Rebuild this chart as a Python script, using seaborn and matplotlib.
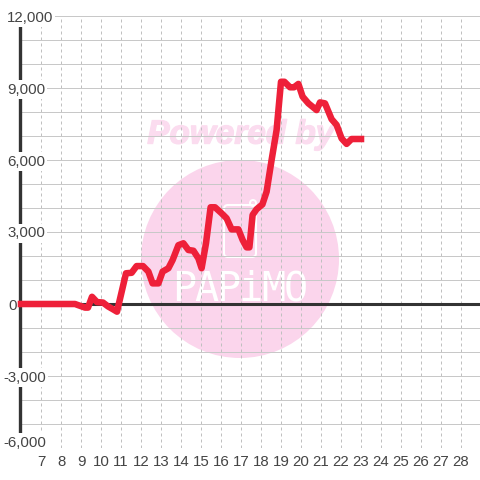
import matplotlib
matplotlib.use("Agg")
import matplotlib.pyplot as plt
import matplotlib.patheffects as pe
from matplotlib.patches import Circle, FancyBboxPatch
import seaborn as sns
import pandas as pd

hours = [6, 8.7, 9.2, 9.35, 9.55, 9.8, 10.1, 10.35, 10.6, 10.8, 11.25, 11.53, 11.78, 12.1, 12.37,
         12.58, 12.87, 13.08, 13.37, 13.58, 13.87, 14.12, 14.37, 14.62, 14.87, 15.03, 15.25,
         15.48, 15.7, 16.03, 16.28, 16.53, 16.87, 17.08, 17.28, 17.42, 17.58, 17.78, 18.07,
         18.28, 18.53, 18.78, 19.0, 19.17, 19.45, 19.65, 19.87, 20.08, 20.37, 20.78, 20.95,
         21.2, 21.53, 21.78, 22.03, 22.28, 22.53, 23.0]
values = [0, 0, -150, -150, 300, 80, 60, -100, -220, -320, 1280, 1300, 1580, 1580, 1350,
          860, 860, 1350, 1490, 1830, 2450, 2530, 2250, 2220, 1900, 1490, 2530,
          4030, 4030, 3780, 3570, 3110, 3110, 2670, 2360, 2360, 3710, 3950, 4150,
          4680, 6000, 7250, 9260, 9260, 9030, 9030, 9170, 8640, 8360, 8080, 8400,
          8360, 7700, 7460, 6900, 6670, 6875, 6875]
x_ticks = list(range(7, 29))
y_grid = list(range(-6000, 13000, 1000))
y_labels = {12000: "12,000", 9000: "9,000", 6000: "6,000", 3000: "3,000", 0: "0",
            -3000: "-3,000", -6000: "-6,000"}
watermark_top = "Powered by"
watermark_name = "PAPiMO"

sns.set_theme(style="white")
plt.rcParams["font.family"] = ["Liberation Sans", "DejaVu Sans"]
TXT = "#444444"
PINK = "#fbd5ec"

fig = plt.figure(figsize=(4.8, 4.8), dpi=100, facecolor="white")
ax = fig.add_axes([20 / 480, 1 - 448 / 480, 460 / 480, 432 / 480])
ax.set_facecolor("none")
ax.set_zorder(5)
ax.set_xlim(5.95, 28.95)
ax.set_ylim(-6000, 12000)

# Watermark in figure pixels
px = lambda x: x / 480
py = lambda y: 1 - y / 480
fig.patches.append(Circle((240, 480 - 259), 99, transform=None, facecolor=PINK, edgecolor="none", zorder=0))
fig.text(px(241), py(135), watermark_top, ha="center", va="center", color="#fbdcef",
         fontsize=24, fontweight="bold", fontstyle="italic", zorder=1,
         path_effects=[pe.withStroke(linewidth=1.0, foreground="#fbdcef")])
fig.patches.append(FancyBboxPatch((224, 480 - 257), 32, 52, boxstyle="round,pad=0,rounding_size=4",
                                  transform=None, facecolor="none", edgecolor="white", linewidth=1.5, zorder=1))
fig.patches.append(Circle((253, 480 - 203), 3, transform=None, facecolor="none", edgecolor="white",
                          linewidth=1.4, zorder=1))
for i, ch in enumerate(watermark_name):
    fig.text(px(184 + i * 22.3), py(290), ch, ha="center", va="center", color="white",
             fontsize=29, family="DejaVu Sans Mono", fontweight="normal", zorder=1)

ax.set_xticks(x_ticks)
ax.set_yticks(y_grid)
ax.tick_params(length=0, labelleft=False, labelbottom=False)
ax.set_axisbelow(True)
ax.grid(axis="y", color="#c8c8c8", linewidth=0.72, linestyle="-")
ax.grid(axis="x", color="#c0c0c0", linewidth=0.72, linestyle=(0, (3, 3)))
for s in ["top", "right", "bottom"]:
    ax.spines[s].set_visible(False)
ax.spines["left"].set_color("#333333")
ax.spines["left"].set_linewidth(2.4)
ax.spines["left"].set_zorder(3)

ax.axhline(0, color="#333333", linewidth=2.2, zorder=3)

df = pd.DataFrame({"hour": hours, "value": values})
sns.lineplot(data=df, x="hour", y="value", ax=ax, color="#ee2039", linewidth=4.7,
             estimator=None, sort=False, errorbar=None, zorder=4, clip_on=False,
             solid_capstyle="projecting", solid_joinstyle="round")
ax.set_xlabel("")
ax.set_ylabel("")

for v, lab in y_labels.items():
    xpx = 3 if v < 0 else (8 if v == 0 else 7)
    yv = v + 290 if v == -6000 else v
    ax.annotate(lab, xy=(xpx, 0), xycoords="figure pixels", annotation_clip=False,
                xytext=(xpx, ax.transData.transform((0, yv))[1]), textcoords="figure pixels",
                ha="left", va="center_baseline", fontsize=10.8, color=TXT, zorder=10,
                bbox=dict(facecolor="white", edgecolor="none", pad=1.5) if v != 0 else None)
for h in x_ticks:
    ax.text(h, -6300, str(h), ha="center", va="top", fontsize=10.8, color=TXT, clip_on=False)

fig.savefig("out.png", dpi=100, facecolor="white")
